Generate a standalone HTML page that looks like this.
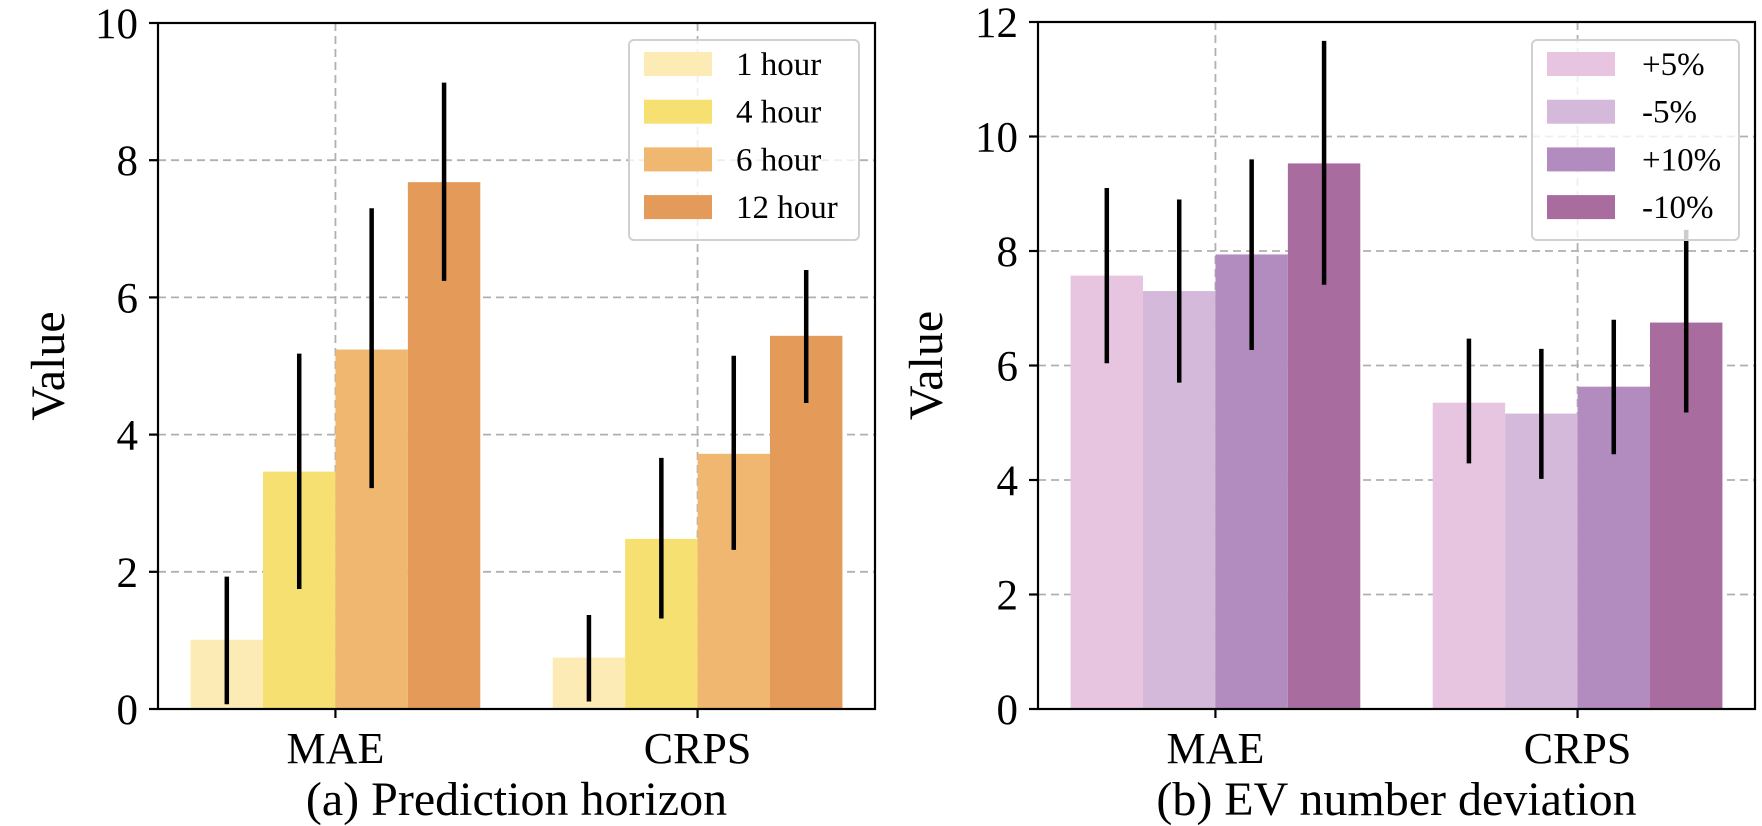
<!DOCTYPE html>
<html><head><meta charset="utf-8"><style>
html,body{margin:0;padding:0;background:#fff;}
svg{display:block;font-family:"Liberation Serif",serif;}
</style></head><body>
<svg id="chart" width="1762" height="826" viewBox="0 0 1762 826" xmlns="http://www.w3.org/2000/svg"></svg>
<script>
const categories = ["MAE", "CRPS"];
const leftSeriesNames = ["1 hour", "4 hour", "6 hour", "12 hour"];
const leftValues = [[1.01, 0.75], [3.46, 2.48], [5.24, 3.72], [7.68, 5.44]];
const leftErrLow = [[0.07, 0.11], [1.75, 1.32], [3.22, 2.32], [6.24, 4.46]];
const leftErrHigh = [[1.93, 1.37], [5.18, 3.66], [7.3, 5.15], [9.13, 6.4]];
const leftTicks = [0, 2, 4, 6, 8, 10];
const rightSeriesNames = ["+5%", "-5%", "+10%", "-10%"];
const rightValues = [[7.57, 5.35], [7.3, 5.16], [7.94, 5.63], [9.53, 6.75]];
const rightErrLow = [[6.04, 4.29], [5.7, 4.02], [6.27, 4.45], [7.41, 5.18]];
const rightErrHigh = [[9.1, 6.47], [8.9, 6.29], [9.6, 6.8], [11.67, 8.37]];
const rightTicks = [0, 2, 4, 6, 8, 10, 12];

const NS = "http://www.w3.org/2000/svg";
const svg = document.getElementById("chart");
function mk(tag, attrs, parent) {
  const e = document.createElementNS(NS, tag);
  for (const k in attrs) e.setAttribute(k, attrs[k]);
  (parent || svg).appendChild(e);
  return e;
}

function panel(cfg) {
  const g = mk("g", {});
  
  
  const X = v => cfg.x0 + (v - (-0.49)) / (1.98) * (cfg.x1 - cfg.x0);
  const Y = v => cfg.y0 - v / cfg.ymax * (cfg.y0 - cfg.yTop);
  cfg.ticks.forEach(t => {
    const l = mk("line", {x1: cfg.x0, x2: cfg.x1, y1: Y(t), y2: Y(t), stroke: "#b0b0b0", "stroke-width": 1.8, "stroke-dasharray": "8,5"}, g);
    
    
  });
  categories.forEach((c, i) => {
    const l = mk("line", {x1: X(i), x2: X(i), y1: cfg.yTop, y2: cfg.y0, stroke: "#b0b0b0", "stroke-width": 1.8, "stroke-dasharray": "8,5"}, g);
    
    
  });
  cfg.values.forEach((ser, s) => {
    ser.forEach((v, i) => {
      const c = i + (s - 1.5) * 0.2;
      const r = mk("rect", {x: X(c - 0.1), y: Y(v), width: X(c + 0.1) - X(c - 0.1), height: Y(0) - Y(v), fill: cfg.colors[s]}, g);
      
      
    });
  });
  cfg.values.forEach((ser, s) => {
    ser.forEach((v, i) => {
      const c = i + (s - 1.5) * 0.2;
      const e = mk("line", {x1: X(c), x2: X(c), y1: Y(cfg.lo[s][i]), y2: Y(cfg.hi[s][i]), stroke: "#000", "stroke-width": 4.5}, g);
      
      
    });
  });
  const f = mk("rect", {x: cfg.x0, y: cfg.yTop, width: cfg.x1 - cfg.x0, height: cfg.y0 - cfg.yTop, fill: "none", stroke: "#000", "stroke-width": 2.2}, g);
  
  
  cfg.ticks.forEach(t => {
    mk("line", {x1: cfg.x0 - 9, x2: cfg.x0, y1: Y(t), y2: Y(t), stroke: "#000", "stroke-width": 2.2}, g);
    const tx = mk("text", {x: cfg.x0 - 20, y: Y(t) + 15, "text-anchor": "end", "font-size": 43}, g);
    tx.textContent = t;
    
    
  });
  categories.forEach((c, i) => {
    mk("line", {x1: X(i), x2: X(i), y1: cfg.y0, y2: cfg.y0 + 9, stroke: "#000", "stroke-width": 2.2}, g);
    const tx = mk("text", {x: X(i), y: 763, "text-anchor": "middle", "font-size": 44}, g);
    tx.textContent = c;
    
    
  });
  const yl = mk("text", {x: 0, y: 0, "text-anchor": "middle", "font-size": 48, transform: "translate(" + cfg.ylx + "," + ((cfg.y0 + cfg.yTop) / 2) + ") rotate(-90)"}, g);
  yl.textContent = "Value";
  
  
  const tt = mk("text", {x: (cfg.x0 + cfg.x1) / 2, y: 815, "text-anchor": "middle", "font-size": 48}, g);
  tt.textContent = cfg.title;
  
  
  const lg = mk("g", {}, g);
  
  
  mk("rect", {x: cfg.lx, y: 40, width: cfg.lw, height: 200, rx: 5, fill: "rgba(255,255,255,0.8)", stroke: "#d0d0d0", "stroke-width": 2}, lg);
  cfg.names.forEach((n, s) => {
    const yy = 64 + s * 47.7;
    const sw = mk("rect", {x: cfg.lx + 15, y: yy - 12, width: 68, height: 24, fill: cfg.colors[s]}, lg);
    
    
    const tx = mk("text", {x: cfg.lx + cfg.ltx, y: yy + 11, "font-size": 33}, lg);
    tx.textContent = n;
    
    
  });
}

panel({name: "panel-prediction-horizon", x0: 158, x1: 875, y0: 709, yTop: 23, ymax: 10, ticks: leftTicks,
  values: leftValues, lo: leftErrLow, hi: leftErrHigh, names: leftSeriesNames,
  colors: ["#fdebb5", "#f6e072", "#efb76f", "#e49b5a"], title: "(a) Prediction horizon", ylx: 64,
  lx: 629, lw: 230, ltx: 107});
panel({name: "panel-ev-number-deviation", x0: 1038, x1: 1755, y0: 709, yTop: 22, ymax: 12, ticks: rightTicks,
  values: rightValues, lo: rightErrLow, hi: rightErrHigh, names: rightSeriesNames,
  colors: ["#e7c4df", "#d4b9da", "#b28bbf", "#a96c9f"], title: "(b) EV number deviation", ylx: 942,
  lx: 1532, lw: 207, ltx: 110});
</script>
</body></html>
